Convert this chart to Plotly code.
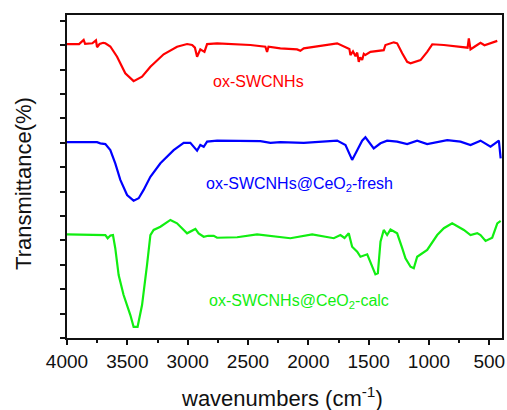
import plotly.graph_objects as go

# ox-SWCNHs (red)
red_wn = [4000, 3950, 3900, 3862, 3850, 3790, 3760, 3751, 3730, 3700, 3682, 3641, 3585, 3517, 3448, 3378,
          3309, 3199, 3088, 3005, 2963, 2940, 2922, 2895, 2861, 2839, 2756, 2480, 2356, 2342, 2330, 2232,
          2093, 2066, 2038, 1761, 1706, 1660, 1651, 1630, 1609, 1595, 1582, 1570, 1554, 1540, 1527, 1500,
          1485, 1375, 1361, 1292, 1264, 1222, 1181, 1153, 1070, 1015, 973, 877, 711, 680, 670, 660, 656,
          620, 573, 540, 490, 434]
red_t = [12.05, 12.06, 12.05, 12.22, 12.06, 12.08, 12.20, 11.92, 12.05, 12.10, 12.08, 11.95, 11.53, 10.85, 10.53, 10.71,
         11.12, 11.63, 11.94, 12.05, 12.01, 11.90, 11.53, 11.83, 11.73, 12.05, 12.08, 12.01, 11.94, 11.73, 11.94, 11.87,
         11.83, 11.77, 11.87, 12.08, 11.97, 11.85, 11.60, 11.75, 11.55, 11.70, 11.32, 11.50, 11.40, 11.65, 11.60, 11.70,
         11.73, 11.80, 12.01, 12.12, 12.08, 11.67, 11.32, 11.26, 11.39, 11.73, 12.04, 12.01, 11.94, 11.90, 12.28, 11.85, 11.83,
         11.95, 12.10, 12.00, 12.08, 12.18]

# ox-SWCNHs@CeO2-fresh (blue)
blue_wn = [4000, 3900, 3751, 3724, 3682, 3641, 3600, 3558, 3502, 3448, 3406, 3365, 3309, 3226, 3116, 3033,
           2978, 2922, 2895, 2867, 2839, 2756, 2397, 2314, 2232, 2038, 1761, 1692, 1637, 1595, 1554, 1527,
           1499, 1458, 1402, 1347, 1264, 1181, 1098, 1015, 849, 739, 656, 573, 490, 421, 406]
blue_t = [8.03, 8.04, 8.03, 7.98, 7.95, 7.70, 7.16, 6.48, 5.86, 5.63, 5.73, 6.07, 6.61, 7.16, 7.70, 8.00,
          8.00, 7.68, 7.91, 7.84, 8.05, 8.09, 8.07, 8.00, 8.03, 8.00, 8.09, 7.91, 7.30, 7.70, 8.09, 8.23,
          8.05, 7.77, 7.98, 8.09, 8.05, 7.95, 8.09, 7.95, 8.11, 8.05, 7.91, 8.09, 7.84, 8.09, 7.36]

# ox-SWCNHs@CeO2-calc (green)
green_wn = [4000, 3682, 3663, 3640, 3619, 3600, 3572, 3531, 3475, 3448, 3415, 3378, 3337, 3309, 3282, 3226,
            3143, 3088, 3005, 2936, 2909, 2867, 2830, 2784, 2756, 2590, 2425, 2232, 2149, 1968, 1789, 1734,
            1700, 1665, 1637, 1595, 1568, 1512, 1471, 1444, 1424, 1402, 1375, 1347, 1319, 1264, 1222, 1195,
            1153, 1126, 1098, 1015, 932, 877, 808, 711, 656, 600, 573, 531, 476, 434, 406]
green_t = [4.25, 4.22, 4.09, 4.20, 4.22, 3.68, 2.58, 1.76, 0.94, 0.46, 0.46, 1.35, 2.99, 4.22, 4.43, 4.56,
           4.84, 4.70, 4.29, 4.47, 4.29, 4.15, 4.19, 4.19, 4.11, 4.13, 4.25, 4.13, 4.09, 4.25, 4.09, 4.22,
           4.10, 4.29, 3.74, 3.54, 3.33, 3.43, 2.92, 2.61, 2.65, 3.95, 4.43, 4.22, 4.45, 4.29, 3.68, 3.27,
           2.92, 2.86, 3.33, 3.61, 4.22, 4.50, 4.70, 4.43, 4.22, 4.30, 4.22, 3.98, 4.11, 4.70, 4.80]

x_ticks = [4000, 3500, 3000, 2500, 2000, 1500, 1000, 500]
y_ticks = list(range(0, 14))

FONT = "Liberation Sans, Arial, sans-serif"

fig = go.Figure()
fig.add_trace(go.Scatter(x=red_wn, y=red_t, mode="lines", line=dict(color="#FF0000", width=2.2), showlegend=False))
fig.add_trace(go.Scatter(x=blue_wn, y=blue_t, mode="lines", line=dict(color="#0000FF", width=2.2), showlegend=False))
fig.add_trace(go.Scatter(x=green_wn, y=green_t, mode="lines", line=dict(color="#11EE11", width=2.2), showlegend=False))

ann = [
    dict(x=2414, y=10.51, xref="x", yref="y", text="ox-SWCNHs", font=dict(color="#FF0000", size=16, family=FONT)),
    dict(x=2070, y=6.31, xref="x", yref="y", text="ox-SWCNHs@CeO<sub>2</sub>-fresh", font=dict(color="#0000FF", size=16, family=FONT)),
    dict(x=2074, y=1.49, xref="x", yref="y", text="ox-SWCNHs@CeO<sub>2</sub>-calc", font=dict(color="#11EE11", size=16, family=FONT)),
    dict(x=0.495, y=-0.182, xref="paper", yref="paper", text="wavenumbers (cm<sup>-1</sup>)", font=dict(color="#111111", size=22, family=FONT)),
    dict(x=-0.099, y=0.48, xref="paper", yref="paper", text="Transmittance(%)", textangle=-90, font=dict(color="#111111", size=22, family=FONT)),
]
for a in ann:
    a["showarrow"] = False
    a["xanchor"] = "center"
    a["yanchor"] = "middle"

fig.update_layout(
    width=507, height=410,
    margin=dict(l=67, r=5, t=15, b=72),
    paper_bgcolor="white", plot_bgcolor="white",
    annotations=ann,
    font=dict(family=FONT, color="#111111"),
)
fig.update_xaxes(
    range=[4000, 395], tickvals=x_ticks, ticktext=[str(v) for v in x_ticks],
    ticks="outside", ticklen=5, tickwidth=1.5, tickcolor="#111111",
    minor=dict(dtick=250, tick0=0, ticks="outside", ticklen=3, tickwidth=1.5, tickcolor="#111111"),
    showline=True, linecolor="#111111", linewidth=1.8, mirror=True, automargin=False,
    showgrid=False, zeroline=False, tickfont=dict(size=19, family=FONT, color="#111111"),
)
fig.update_yaxes(
    range=[0, 13.24], tickvals=y_ticks, showticklabels=False,
    ticks="outside", ticklen=5, tickwidth=1.5, tickcolor="#111111",
    showline=True, linecolor="#111111", linewidth=1.8, mirror=True, automargin=False,
    showgrid=False, zeroline=False,
)
fig.write_html("out.html", config={"displayModeBar": False},
               post_script="document.body.style.margin='0';document.body.style.overflow='hidden';")
